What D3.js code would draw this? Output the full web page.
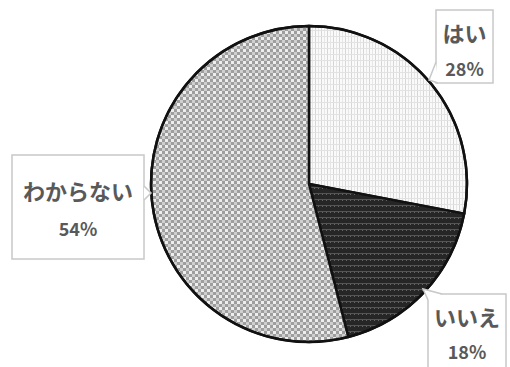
<!DOCTYPE html>
<html><head><meta charset="utf-8">
<script src="https://cdn.jsdelivr.net/npm/d3@7"></script>
<style>body{margin:0;background:#fff}svg{display:block}</style>
</head><body>
<svg id="c" width="510" height="367"></svg>
<script>
const categories = ["はい", "いいえ", "わからない"];
const values = [28, 18, 54];
const valueLabels = ["28%", "18%", "54%"];

const svg = d3.select("#c");
const W = 510, H = 367;
const cx = 309, cy = 184, R = 158;

const defs = svg.append("defs");
// はい: light dotted grid
const p1 = defs.append("pattern").attr("id","p0").attr("patternUnits","userSpaceOnUse").attr("width",6).attr("height",6);
p1.append("rect").attr("width",6).attr("height",6).attr("fill","#fafafa");
p1.append("rect").attr("x",0).attr("y",0).attr("width",1).attr("height",6).attr("fill","#d6d6d6");
p1.append("rect").attr("x",3).attr("y",0).attr("width",1).attr("height",6).attr("fill","#e6e6e6");
p1.append("rect").attr("x",0).attr("y",2).attr("width",6).attr("height",1).attr("fill","#e2e2e2");
// いいえ: dark horizontal stripes
const p2 = defs.append("pattern").attr("id","p1").attr("patternUnits","userSpaceOnUse").attr("width",4).attr("height",6);
p2.append("rect").attr("width",4).attr("height",6).attr("fill","#262626");
p2.append("rect").attr("x",0).attr("y",3).attr("width",4).attr("height",1).attr("fill","#555");
p2.append("rect").attr("x",1).attr("y",4).attr("width",1).attr("height",1).attr("fill","#666");
// わからない: checkerboard
const p3 = defs.append("pattern").attr("id","p2").attr("patternUnits","userSpaceOnUse").attr("width",6).attr("height",6);
p3.append("rect").attr("width",6).attr("height",6).attr("fill","#eeeeee");
p3.append("rect").attr("x",0).attr("y",0).attr("width",3).attr("height",3).attr("fill","#9e9e9e");
p3.append("rect").attr("x",3).attr("y",3).attr("width",3).attr("height",3).attr("fill","#9e9e9e");
p3.append("rect").attr("x",3).attr("y",0).attr("width",3).attr("height",3).attr("fill","#cfcfcf");

const pie = d3.pie().sort(null).value(d => d)(values);
const arc = d3.arc().innerRadius(0).outerRadius(R);
const g = svg.append("g").attr("transform",`translate(${cx},${cy})`);
g.selectAll("path.s").data(pie).join("path").attr("class","s")
  .attr("d", arc).attr("fill",(d,i)=>`url(#p${i})`)
  .attr("stroke","#111").attr("stroke-width",2.5).attr("stroke-linejoin","round");
g.append("circle").attr("r",R).attr("fill","none").attr("stroke","#111").attr("stroke-width",2.5);

// callout boxes: [x,y,w,h] and pointer tip
const boxes = [
  {x:436,y:10,w:57,h:73, tip:[429,80], base:[[436,62],[438,83]], t1:42, t2:76},
  {x:428,y:294,w:78,h:80, tip:[423,289], base:[[428,300],[442,294]], t1:326, t2:359},
  {x:12,y:155,w:132,h:104, tip:[151,193], base:[[144,186],[144,200]], t1:200, t2:236}
];
const fontStack = "'Noto Sans CJK JP','Noto Sans',sans-serif";
boxes.forEach((b,i)=>{
  svg.append("rect").attr("x",b.x).attr("y",b.y).attr("width",b.w).attr("height",b.h)
    .attr("fill","#fff").attr("stroke","#c8c8c8").attr("stroke-width",1.5);
  svg.append("path").attr("d",`M${b.base[0][0]},${b.base[0][1]}L${b.tip[0]},${b.tip[1]}L${b.base[1][0]},${b.base[1][1]}`)
    .attr("fill","#fff").attr("stroke","#c8c8c8").attr("stroke-width",1.5);
  const mx = b.x + b.w/2;
  svg.append("text").attr("x",mx).attr("y",b.t1).attr("text-anchor","middle")
    .attr("font-family",fontStack).attr("font-weight","bold").attr("font-size",22)
    .attr("fill","#595959").text(categories[i]);
  svg.append("text").attr("x",mx).attr("y",b.t2).attr("text-anchor","middle")
    .attr("font-family",fontStack).attr("font-weight","bold").attr("font-size",18)
    .attr("fill","#595959").text(valueLabels[i]);
});
</script>
</body></html>
